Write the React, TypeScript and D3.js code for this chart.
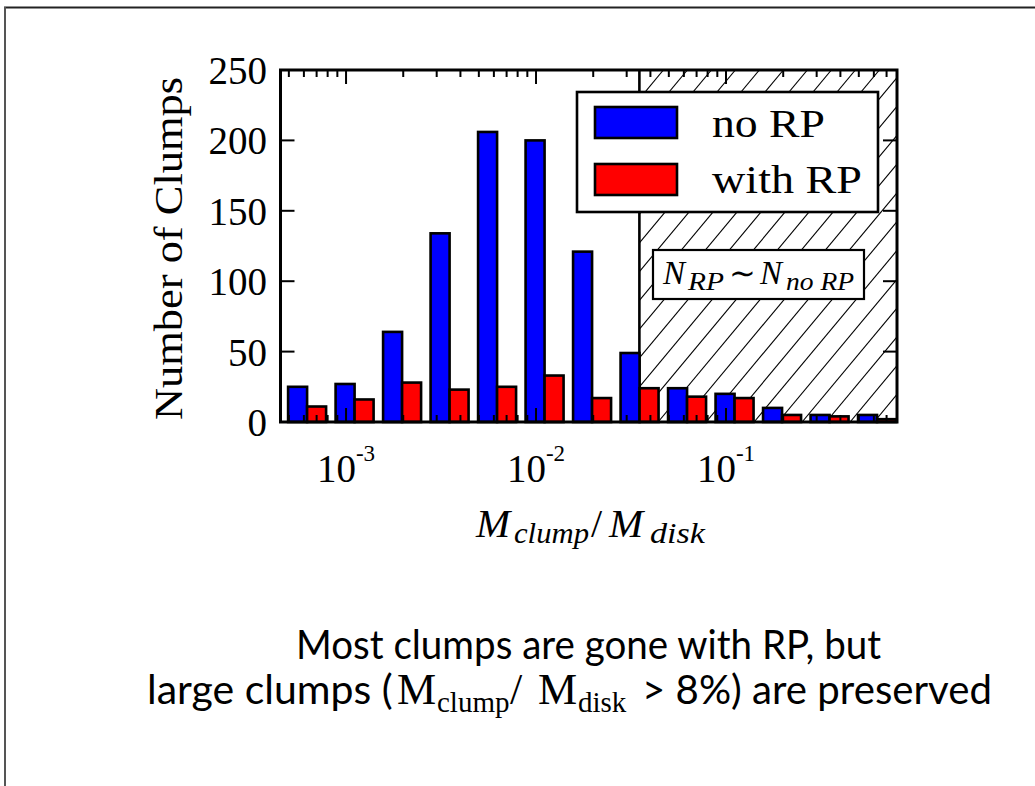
import React from 'react';
import * as d3 from 'd3';

// Histogram of clump mass fraction, log10 bin lower edges (bin width 0.25 dex)
const binLowLog10 = [-3.33, -3.08, -2.83, -2.58, -2.33, -2.08, -1.83, -1.58, -1.33, -1.08, -0.83, -0.58, -0.33];
const binWidthLog10 = 0.25;
const countsNoRP = [25, 27, 64, 134, 206, 200, 121, 49, 24, 20, 10, 5, 5];
const countsWithRP = [11, 16, 28, 23, 25, 33, 17, 24, 18, 17, 5, 4, 2];
const seriesNames = ['no RP', 'with RP'];
const seriesColors = ['#0000ff', '#ff0000'];
const yTicks = [0, 50, 100, 150, 200, 250];
const xMajorTicks = [1e-3, 1e-2, 1e-1];
const xTickExponents = ['-3', '-2', '-1'];
const xDomainLog10 = [-3.345, -0.1];
const yDomain = [0, 250];
// Mass fraction above which both runs keep a similar number of clumps
const similarFrom = 0.035;

const W = 1035;
const H = 786;
const plot = { left: 280.5, right: 897, top: 70, bottom: 422 };
const SERIF = "'Liberation Serif', 'Times New Roman', serif";
const SANS = "Lato, 'Open Sans', sans-serif";

type PieceProps = {
  x: number;
  y: number;
  size: number;
  w?: number;
  italic?: boolean;
  family?: string;
  anchor?: 'start' | 'middle' | 'end';
  children: React.ReactNode;
};

// A single run of text, optionally fitted to a given advance width
function Piece({ x, y, size, w, italic, family = SERIF, anchor = 'start', children }: PieceProps) {
  return (
    <text
      x={x}
      y={y}
      fontSize={size}
      fontFamily={family}
      fontStyle={italic ? 'italic' : 'normal'}
      textAnchor={anchor}
      textLength={w}
      lengthAdjust={w ? 'spacingAndGlyphs' : undefined}
      fill="#000"
    >
      {children}
    </text>
  );
}

export default function App() {
  const x = d3
    .scaleLog()
    .domain([Math.pow(10, xDomainLog10[0]), Math.pow(10, xDomainLog10[1])])
    .range([plot.left, plot.right]);
  const y = d3.scaleLinear().domain(yDomain).range([plot.bottom, plot.top]);

  const [xmin, xmax] = x.domain();
  const minorTicks: number[] = [];
  for (let k = -4; k <= 0; k++) {
    for (let m = 2; m <= 9; m++) {
      const v = m * Math.pow(10, k);
      if (v > xmin && v < xmax) minorTicks.push(v);
    }
  }

  const xCut = x(similarFrom);

  // Diagonal hatch lines for the similar-count region
  const hatchSlope = 1.2;
  const hatchStep = 24;
  const plotH = plot.bottom - plot.top;
  const hatchOffsets = d3.range(xCut - plotH / hatchSlope - hatchStep, plot.right + hatchStep, hatchStep);

  const pad = 0.1 * binWidthLog10;
  const half = 0.4 * binWidthLog10;
  const bars = binLowLog10.flatMap((lo, i) => [
    { x0: lo + pad, x1: lo + pad + half, v: countsNoRP[i], s: 0, key: `a${i}` },
    { x0: lo + pad + half, x1: lo + pad + 2 * half, v: countsWithRP[i], s: 1, key: `b${i}` },
  ]);

  const lw = 2.6;

  return (
    <svg
      width={W}
      height={H}
      viewBox={`0 0 ${W} ${H}`}
      style={{ position: 'absolute', left: 0, top: 0, background: '#fff' }}
    >
      <defs>
        <clipPath id="hatchClip">
          <rect x={xCut} y={plot.top} width={plot.right - xCut} height={plotH} />
        </clipPath>
      </defs>

      {/* slide frame */}
      <line x1={4} x2={W} y1={7.5} y2={7.5} stroke="#222" strokeWidth={2} />
      <line x1={5} x2={5} y1={7} y2={H} stroke="#555" strokeWidth={2} />

      {/* hatched region */}
      <g clipPath="url(#hatchClip)">
        {hatchOffsets.map((c, i) => (
          <line
            key={i}
            x1={c}
            y1={plot.bottom}
            x2={c + plotH / hatchSlope}
            y2={plot.top}
            stroke="#000"
            strokeWidth={1.1}
          />
        ))}
      </g>
      <line x1={xCut} x2={xCut} y1={plot.top} y2={plot.bottom} stroke="#000" strokeWidth={lw} />

      {/* bars */}
      {bars.map((b) => {
        const xa = x(Math.pow(10, b.x0));
        const xb = x(Math.pow(10, b.x1));
        return (
          <rect
            key={b.key}
            x={xa}
            y={y(b.v)}
            width={xb - xa}
            height={y(0) - y(b.v)}
            fill={seriesColors[b.s]}
            stroke="#000"
            strokeWidth={lw}
          />
        );
      })}

      {/* ticks */}
      <g stroke="#000" strokeWidth={2}>
        {yTicks.map((t) => (
          <g key={`yt${t}`}>
            <line x1={plot.left} x2={plot.left + 14} y1={y(t)} y2={y(t)} />
            <line x1={plot.right} x2={plot.right - 14} y1={y(t)} y2={y(t)} />
          </g>
        ))}
        {xMajorTicks.map((t) => (
          <g key={`xt${t}`}>
            <line x1={x(t)} x2={x(t)} y1={plot.bottom} y2={plot.bottom - 14} />
            <line x1={x(t)} x2={x(t)} y1={plot.top} y2={plot.top + 14} />
          </g>
        ))}
        {minorTicks.map((t) => (
          <g key={`xm${t}`}>
            <line x1={x(t)} x2={x(t)} y1={plot.bottom} y2={plot.bottom - 7} />
            <line x1={x(t)} x2={x(t)} y1={plot.top} y2={plot.top + 7} />
          </g>
        ))}
      </g>

      {/* axes frame */}
      <rect
        x={plot.left}
        y={plot.top}
        width={plot.right - plot.left}
        height={plotH}
        fill="none"
        stroke="#000"
        strokeWidth={3}
      />

      {/* y tick labels */}
      {yTicks.map((t) => (
        <text
          key={`yl${t}`}
          x={267}
          y={y(t) + 14}
          textAnchor="end"
          fontFamily={SERIF}
          fontSize={39}
          fill="#000"
        >
          {t}
        </text>
      ))}

      {/* x tick labels */}
      {xMajorTicks.map((t, i) => (
        <text
          key={`xl${t}`}
          x={x(t)}
          y={481.5}
          textAnchor="middle"
          fontFamily={SERIF}
          fontSize={39}
          fill="#000"
        >
          10
          <tspan fontSize={23} dy={-21}>
            {xTickExponents[i]}
          </tspan>
        </text>
      ))}

      {/* axis titles */}
      <text
        transform={`translate(182,248.5) rotate(-90)`}
        textAnchor="middle"
        fontFamily={SERIF}
        fontSize={40}
        textLength={343}
        lengthAdjust="spacingAndGlyphs"
        fill="#000"
      >
        Number of Clumps
      </text>
      <Piece x={476} y={536.5} size={41} italic>M</Piece>
      <Piece x={514} y={543} size={30} w={75} italic>clump</Piece>
      <Piece x={591} y={536.5} size={40}>/</Piece>
      <Piece x={609} y={536.5} size={41} italic>M</Piece>
      <Piece x={650} y={543} size={30} w={55} italic>disk</Piece>

      {/* legend */}
      <rect x={577} y={92} width={301} height={120} fill="#fff" stroke="#000" strokeWidth={lw} />
      {seriesNames.map((name, i) => (
        <g key={name}>
          <rect
            x={595}
            y={107 + i * 57}
            width={82}
            height={31}
            fill={seriesColors[i]}
            stroke="#000"
            strokeWidth={lw}
          />
          <Piece x={712} y={137 + i * 56} size={40} w={i === 0 ? 113 : 150}>
            {name}
          </Piece>
        </g>
      ))}

      {/* annotation for the hatched region */}
      <rect x={653} y={250} width={211} height={49} fill="#fff" stroke="#000" strokeWidth={2.2} />
      <Piece x={663} y={283.5} size={33} italic>N</Piece>
      <Piece x={688} y={290} size={26} w={36} italic>RP</Piece>
      <Piece x={729} y={283.5} size={32}>∼</Piece>
      <Piece x={760} y={283.5} size={33} italic>N</Piece>
      <Piece x={786} y={290} size={26} w={68} italic>no RP</Piece>

      {/* caption */}
      <Piece x={588.5} y={659} size={40} w={585} family={SANS} anchor="middle">
        Most clumps are gone with RP, but
      </Piece>
      <Piece x={147} y={704} size={41} family={SANS}>large clumps (</Piece>
      <Piece x={397} y={704} size={44}>M</Piece>
      <Piece x={437} y={712} size={29}>clump</Piece>
      <Piece x={510} y={704} size={44}>/</Piece>
      <Piece x={538} y={704} size={44}>M</Piece>
      <Piece x={578} y={712} size={29}>disk</Piece>
      <Piece x={992} y={704} size={41} family={SANS} anchor="end" w={350}>
        &gt; 8%) are preserved
      </Piece>
    </svg>
  );
}
